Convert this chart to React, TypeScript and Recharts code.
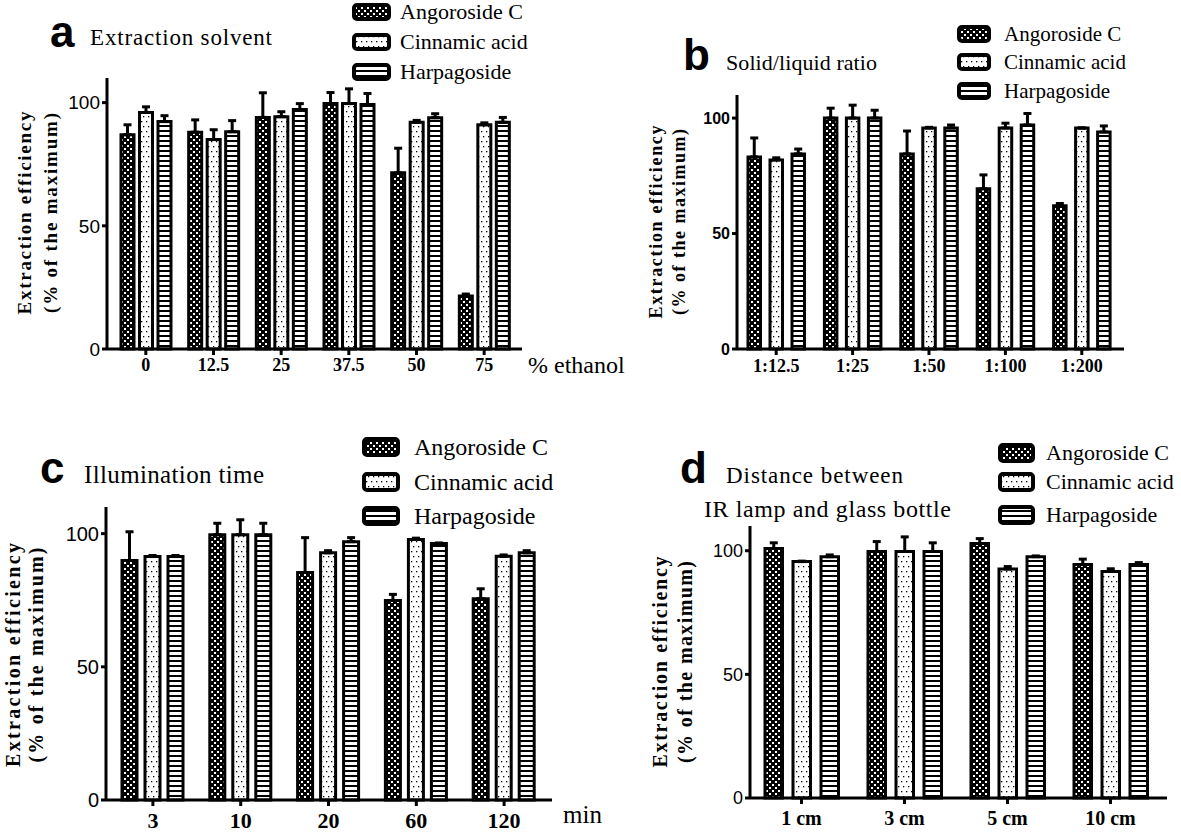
import { BarChart, Bar, XAxis, YAxis, ErrorBar } from "recharts";

const seriesNames = ["Angoroside C", "Cinnamic acid", "Harpagoside"];

// a: extraction solvent (% ethanol)
const catsA = ["0", "12.5", "25", "37.5", "50", "75"];
const angA = [87, 88, 94, 99.6, 71.5, 21.5];
const angErrA = [4, 5, 10, 4.5, 10, 0.8];
const cinA = [96, 85, 94.3, 99.6, 92, 91];
const cinErrA = [2.3, 4, 2, 6, 0.8, 0.8];
const harA = [92.3, 88.2, 97.2, 99.2, 93.9, 92];
const harErrA = [2.4, 4.5, 2.4, 4.5, 1.6, 2];

// b: solid/liquid ratio
const catsB = ["1:12.5", "1:25", "1:50", "1:100", "1:200"];
const angB = [83.2, 100, 84.5, 69.4, 62];
const angErrB = [8.2, 4.3, 9.9, 6, 1];
const cinB = [81.9, 100, 95.7, 95.7, 95.7];
const cinErrB = [0.9, 5.6, 0.3, 2.1, 0];
const harB = [84.5, 100, 95.7, 97, 94];
const harErrB = [2.1, 3.4, 1.3, 5, 2.6];

// c: illumination time (min)
const catsC = ["3", "10", "20", "60", "120"];
const angC = [89.9, 99.6, 85.4, 74.9, 75.6];
const angErrC = [10.8, 4.3, 13.1, 2.3, 3.7];
const cinC = [91.4, 99.6, 92.8, 97.8, 91.5];
const cinErrC = [0.4, 5.6, 0.8, 0.5, 0.5];
const harC = [91.4, 99.6, 97, 96.3, 92.8];
const harErrC = [0.4, 4.3, 1.5, 0.2, 0.8];

// d: lamp distance
const catsD = ["1 cm", "3 cm", "5 cm", "10 cm"];
const angD = [100.9, 99.7, 102.9, 94.4];
const angErrD = [2.3, 4, 2, 2.2];
const cinD = [95.6, 99.7, 92.6, 91.6];
const cinErrD = [0.2, 5.9, 1, 1.1];
const harD = [97.6, 99.7, 97.6, 94.4];
const harErrD = [0.7, 3.5, 0.3, 0.8];

const yTicks = [0, 50, 100];

const serif = "Liberation Serif";
const sans = "Liberation Sans";
const narrow = "'Liberation Sans Narrow', 'Liberation Sans', Arial, sans-serif";

const keys = ["ang", "cin", "har"];
const fills = ["url(#patAng)", "url(#patCin)", "url(#patHar)"];

function rows(
  cats: string[],
  ang: number[], angErr: number[],
  cin: number[], cinErr: number[],
  har: number[], harErr: number[]
) {
  // errors only go upward, so low bound is 0
  return cats.map((cat, i) => ({
    cat,
    ang: ang[i], angE: [0, angErr[i]],
    cin: cin[i], cinE: [0, cinErr[i]],
    har: har[i], harE: [0, harErr[i]],
  }));
}

function Panel(p: any) {
  const { left, top, width, height, axisX, plotTop, plotBottom, plotRight } = p;
  return (
    <div style={{ position: "absolute", left, top }}>
      <BarChart
        width={width}
        height={height}
        data={p.data}
        barSize={p.barSize}
        barGap={p.barGap}
        margin={{ top: plotTop - top, right: left + width - plotRight, bottom: 0, left: 0 }}
      >
        <XAxis
          dataKey="cat"
          height={top + height - plotBottom}
          padding={p.pad}
          interval={0}
          axisLine={{ stroke: "#000", strokeWidth: 3 }}
          tickLine={{ stroke: "#000", strokeWidth: 3 }}
          tickSize={6}
          tickMargin={p.xTickMargin}
          tick={{ fill: "#000", fontFamily: serif, fontWeight: "bold", fontSize: p.xFontSize }}
        />
        <YAxis
          width={axisX - left}
          domain={[0, 110]}
          ticks={yTicks}
          interval={0}
          axisLine={{ stroke: "#000", strokeWidth: 3 }}
          tickLine={{ stroke: "#000", strokeWidth: 3 }}
          tickSize={5}
          tickMargin={2}
          tick={{ fill: "#000", fontFamily: p.yFont, fontWeight: p.yWeight, fontSize: p.yFontSize }}
        />
        {keys.map((k, i) => (
          <Bar key={k} dataKey={k} fill={fills[i]} stroke="#000" strokeWidth={3} isAnimationActive={false}>
            <ErrorBar dataKey={k + "E"} width={4} stroke="#000" strokeWidth={3} direction="y" isAnimationActive={false} />
          </Bar>
        ))}
      </BarChart>
    </div>
  );
}

function SeriesKey({ x, tx, ys, w, h, fs }: { x: number; tx: number; ys: number[]; w: number; h: number; fs: number }) {
  return (
    <g>
      {seriesNames.map((name, i) => (
        <g key={name}>
          <rect x={x} y={ys[i] - h / 2} width={w} height={h} rx={3} fill={fills[i]} stroke="#000" strokeWidth={4} />
          <text x={tx} y={ys[i] + fs * 0.33} fontFamily={serif} fontSize={fs} fill="#000">
            {name}
          </text>
        </g>
      ))}
    </g>
  );
}

function YLabel({ cx1, cx2, cy, fs, len1, len2 }: { cx1: number; cx2: number; cy: number; fs: number; len1: number; len2: number }) {
  return (
    <g fontFamily={serif} fontWeight="bold" fontSize={fs} fill="#000" textAnchor="middle">
      <text x={cx1} y={cy} transform={`rotate(-90 ${cx1} ${cy})`} dominantBaseline="central" textLength={len1} lengthAdjust="spacing">
        Extraction efficiency
      </text>
      <text x={cx2} y={cy} transform={`rotate(-90 ${cx2} ${cy})`} dominantBaseline="central" textLength={len2} lengthAdjust="spacing">
        (% of the maximum)
      </text>
    </g>
  );
}

export default function App() {
  const dataA = rows(catsA, angA, angErrA, cinA, cinErrA, harA, harErrA);
  const dataB = rows(catsB, angB, angErrB, cinB, cinErrB, harB, harErrB);
  const dataC = rows(catsC, angC, angErrC, cinC, cinErrC, harC, harErrC);
  const dataD = rows(catsD, angD, angErrD, cinD, cinErrD, harD, harErrD);

  return (
    <div style={{ position: "absolute", left: 0, top: 0, width: 1181, height: 832, background: "#fff", overflow: "hidden" }}>
      <Panel left={0} top={0} width={530} height={400} axisX={107} plotTop={78} plotBottom={349} plotRight={522}
        data={dataA} barSize={13} barGap={5.5} pad={{ left: 5, right: 4 }} xTickMargin={3} xFontSize={18}
        yFont={narrow} yWeight="normal" yFontSize={19} />
      <Panel left={600} top={0} width={530} height={400} axisX={737} plotTop={95} plotBottom={349} plotRight={1124}
        data={dataB} barSize={12.5} barGap={9.5} pad={{ left: 1, right: 4 }} xTickMargin={4} xFontSize={18}
        yFont={sans} yWeight="bold" yFontSize={16} />
      <Panel left={0} top={420} width={560} height={412} axisX={106} plotTop={507} plotBottom={800} plotRight={552}
        data={dataC} barSize={15} barGap={8} pad={{ left: 3, right: 4 }} xTickMargin={6} xFontSize={22}
        yFont={narrow} yWeight="normal" yFontSize={20} />
      <Panel left={600} top={420} width={581} height={412} axisX={750} plotTop={526} plotBottom={798} plotRight={1167}
        data={dataD} barSize={17.5} barGap={10.5} pad={{ left: 0, right: 5 }} xTickMargin={7} xFontSize={20}
        yFont={sans} yWeight="normal" yFontSize={18} />

      <svg width={1181} height={832} style={{ position: "absolute", left: 0, top: 0, pointerEvents: "none" }}>
        <defs>
          <pattern id="patAng" width={6} height={6} patternUnits="userSpaceOnUse">
            <rect width={6} height={6} fill="#000" />
            <rect x={1} y={1} width={2} height={2} fill="#fff" />
            <rect x={4} y={4} width={2} height={2} fill="#fff" />
          </pattern>
          <pattern id="patCin" width={5} height={10} patternUnits="userSpaceOnUse">
            <rect width={5} height={10} fill="#fff" />
            <rect x={1} y={1} width={1.3} height={1.3} fill="#000" />
            <rect x={3} y={6} width={1.3} height={1.3} fill="#000" />
          </pattern>
          <pattern id="patHar" width={5} height={5} patternUnits="userSpaceOnUse">
            <rect width={5} height={5} fill="#fff" />
            <rect x={0} y={0} width={5} height={2} fill="#000" />
          </pattern>
        </defs>

        {/* panel a */}
        <text x={50} y={47} fontFamily={sans} fontWeight="bold" fontSize={44}>a</text>
        <text x={90} y={45} fontFamily={serif} fontSize={23} textLength={182} lengthAdjust="spacing">Extraction solvent</text>
        <SeriesKey x={354} tx={400} ys={[12, 42, 72]} w={35} h={14} fs={22} />
        <YLabel cx1={24} cx2={50} cy={213} fs={19} len1={203} len2={200} />
        <text x={528} y={373} fontFamily={serif} fontSize={24}>% ethanol</text>

        {/* panel b */}
        <text x={683} y={70} fontFamily={sans} fontWeight="bold" fontSize={44}>b</text>
        <text x={726} y={70} fontFamily={serif} fontSize={22} textLength={151} lengthAdjust="spacing">Solid/liquid ratio</text>
        <SeriesKey x={959} tx={1004} ys={[34, 62, 91]} w={30} h={14} fs={21} />
        <YLabel cx1={656} cx2={679} cy={222} fs={18} len1={193} len2={186} />

        {/* panel c */}
        <text x={40} y={483} fontFamily={sans} fontWeight="bold" fontSize={44}>c</text>
        <text x={84} y={483} fontFamily={serif} fontSize={25} textLength={180} lengthAdjust="spacing">Illumination time</text>
        <SeriesKey x={364} tx={414} ys={[447, 482, 516]} w={34} h={16} fs={24} />
        <YLabel cx1={13} cx2={36} cy={655} fs={20} len1={224} len2={215} />
        <text x={563} y={823} fontFamily={serif} fontSize={25}>min</text>

        {/* panel d */}
        <text x={680} y={483} fontFamily={sans} fontWeight="bold" fontSize={44}>d</text>
        <text x={726} y={483} fontFamily={serif} fontSize={23} textLength={177} lengthAdjust="spacing">Distance between</text>
        <text x={704} y={517} fontFamily={serif} fontSize={24} textLength={247} lengthAdjust="spacing">IR lamp and glass bottle</text>
        <SeriesKey x={1000} tx={1046} ys={[453, 482, 515]} w={33} h={16} fs={22} />
        <YLabel cx1={660} cx2={685} cy={662} fs={20} len1={211} len2={202} />
      </svg>
    </div>
  );
}
